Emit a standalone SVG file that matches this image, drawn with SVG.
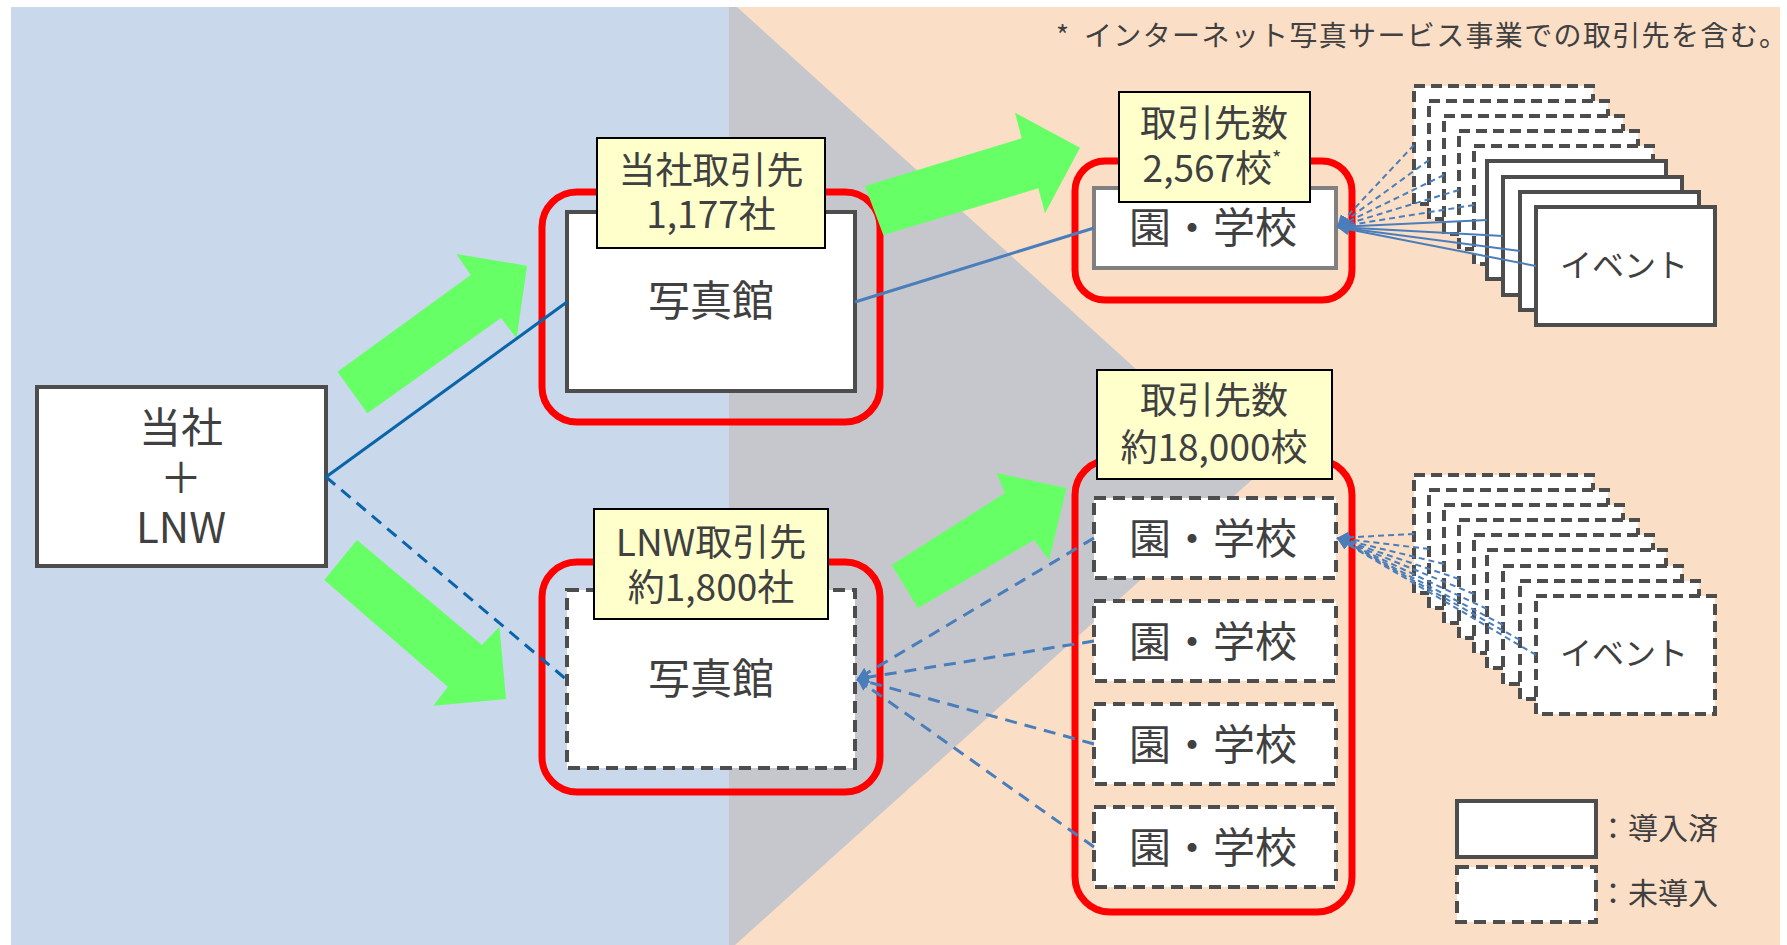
<svg xmlns="http://www.w3.org/2000/svg" width="1787" height="945" viewBox="0 0 1787 945">
<style>
text{font-family:"Noto Sans CJK JP","Noto Sans",sans-serif;fill:#404040}
.big{font-size:42px;text-anchor:middle}
.lab{font-size:37px;text-anchor:middle}
.ev{font-size:32px;text-anchor:middle}
.leg{font-size:30px}
.box{fill:#fff;stroke:#4d4d4d;stroke-width:4}
.dash{stroke-dasharray:12 7}
.edash{stroke-dasharray:11 6}
.red{fill:none;stroke:#ff0000;stroke-width:7}
.yel{fill:#ffffcc;stroke:#000;stroke-width:2}
.grn{fill:#66ff66}
.c1{fill:none;stroke:#0a64aa;stroke-width:3}
.c2{fill:none;stroke:#4a7ebb;stroke-width:3}
.f{fill:none;stroke:#4a7ebb;stroke-width:2}
.fd{stroke-dasharray:6 4}
.d{stroke-dasharray:12 8}
</style>
<defs>
<marker id="ah" markerUnits="userSpaceOnUse" markerWidth="14" markerHeight="12" refX="12" refY="6" orient="auto">
<path d="M0,0 L12,6 L0,12 Z" fill="#4a7ebb"/>
</marker>
</defs>
<g id="background">
<rect x="11" y="7" width="1769" height="938" fill="#fadec6"/>
<polygon points="729,7 737,7 1255,477 735,945 729,945" fill="#c6c7cc"/>
<rect x="11" y="7" width="718" height="938" fill="#c9d8ea"/>
</g>
<g id="groups">
<rect class="red" x="542" y="192" width="338" height="230" rx="35"/>
<rect class="red" x="542" y="562" width="338" height="230" rx="35"/>
<rect class="red" x="1075" y="161" width="277" height="139" rx="30"/>
<rect class="red" x="1075" y="460" width="277" height="452" rx="35"/>
</g>
<g id="node-company">
<rect class="box" x="37" y="387" width="289" height="179"/>
<text class="big" x="181" y="443">当社</text>
<text class="big" x="181" y="493">＋</text>
<text class="big" x="181" y="543">LNW</text>
</g>
<g id="node-studio-own">
<rect class="box" x="567" y="212" width="288" height="179"/>
<text class="big" x="711" y="316">写真館</text>
<rect class="yel" x="597" y="138" width="228" height="110"/>
<text class="lab" x="711" y="184">当社取引先</text>
<text class="lab" x="711" y="228">1,177社</text>
</g>
<g id="node-studio-lnw">
<rect class="box dash" x="567" y="590" width="288" height="178"/>
<text class="big" x="711" y="694">写真館</text>
<rect class="yel" x="594" y="509" width="234" height="110"/>
<text class="lab" x="711" y="556">LNW取引先</text>
<text class="lab" x="711" y="601">約1,800社</text>
</g>
<g id="node-school-own">
<rect class="box" style="stroke:#808080" x="1094" y="188" width="242" height="80"/>
<text class="big" x="1213" y="243">園・学校</text>
<rect class="yel" x="1119" y="92" width="191" height="110"/>
<text class="lab" x="1214" y="137">取引先数</text>
<text class="lab" x="1212" y="182">2,567校<tspan font-size="20" dy="-16">*</tspan></text>
</g>
<g id="node-school-lnw">
<rect class="box dash" x="1094" y="498" width="242" height="80"/>
<text class="big" x="1213" y="554">園・学校</text>
<rect class="box dash" x="1094" y="601" width="242" height="80"/>
<text class="big" x="1213" y="657">園・学校</text>
<rect class="box dash" x="1094" y="704" width="242" height="80"/>
<text class="big" x="1213" y="760">園・学校</text>
<rect class="box dash" x="1094" y="807" width="242" height="80"/>
<text class="big" x="1213" y="863">園・学校</text>
<rect class="yel" x="1097" y="370" width="235" height="109"/>
<text class="lab" x="1214" y="414">取引先数</text>
<text class="lab" x="1214" y="461">約18,000校</text>
</g>
<g id="node-events-own">
<rect class="box edash" x="1414" y="86" width="179" height="118"/>
<rect class="box edash" x="1429" y="101" width="179" height="118"/>
<rect class="box edash" x="1444" y="116" width="179" height="118"/>
<rect class="box edash" x="1459" y="131" width="179" height="118"/>
<rect class="box edash" x="1474" y="146" width="179" height="118"/>
<rect class="box" x="1487" y="161" width="179" height="118"/>
<rect class="box" x="1503" y="177" width="179" height="118"/>
<rect class="box" x="1520" y="192" width="179" height="118"/>
<rect class="box" x="1536" y="207" width="179" height="118"/>
<text class="ev" x="1624" y="277">イベント</text>
</g>
<g id="node-events-lnw">
<rect class="box edash" x="1414" y="475" width="179" height="118"/>
<rect class="box edash" x="1429" y="490" width="179" height="118"/>
<rect class="box edash" x="1444" y="505" width="179" height="118"/>
<rect class="box edash" x="1459" y="520" width="179" height="118"/>
<rect class="box edash" x="1474" y="535" width="179" height="118"/>
<rect class="box edash" x="1487" y="550" width="179" height="118"/>
<rect class="box edash" x="1503" y="566" width="179" height="118"/>
<rect class="box edash" x="1520" y="581" width="179" height="118"/>
<rect class="box edash" x="1536" y="596" width="179" height="118"/>
<text class="ev" x="1624" y="665">イベント</text>
</g>
<g id="arrows">
<polygon class="grn" points="337.5,371.7 470.7,275 456.4,254 527,265.7 516.6,338.3 501,318 367.4,413.3"/>
<polygon class="grn" points="357,540 482,645 499.4,626.7 506,699 433.4,705.7 447.8,686.7 324.3,580"/>
<polygon class="grn" points="865,186 1021.7,138.3 1015,112.7 1080,147.7 1045,213.3 1038.3,188.3 883.3,235"/>
<polygon class="grn" points="891.7,565 1005,493 996.5,473 1066.5,488 1049,560 1034,540 918,608"/>
</g>
<g id="connectors">
<line class="c1" x1="326" y1="477" x2="567" y2="302"/>
<line class="c1 d" x1="326" y1="477" x2="567" y2="680"/>
<line class="c2" x1="855" y1="302" x2="1094" y2="228"/>
<line class="c2 d" x1="1094" y1="538" x2="857" y2="679" marker-end="url(#ah)"/>
<line class="c2 d" x1="1094" y1="641" x2="857" y2="679" marker-end="url(#ah)"/>
<line class="c2 d" x1="1094" y1="744" x2="857" y2="679" marker-end="url(#ah)"/>
<line class="c2 d" x1="1094" y1="847" x2="857" y2="679" marker-end="url(#ah)"/>
<line class="f fd" x1="1414" y1="145" x2="1337" y2="227" marker-end="url(#ah)"/>
<line class="f fd" x1="1429" y1="160" x2="1337" y2="227" marker-end="url(#ah)"/>
<line class="f fd" x1="1444" y1="175" x2="1337" y2="227" marker-end="url(#ah)"/>
<line class="f fd" x1="1459" y1="190" x2="1337" y2="227" marker-end="url(#ah)"/>
<line class="f fd" x1="1474" y1="205" x2="1337" y2="227" marker-end="url(#ah)"/>
<line class="f" x1="1487" y1="220" x2="1337" y2="227" marker-end="url(#ah)"/>
<line class="f" x1="1503" y1="236" x2="1337" y2="227" marker-end="url(#ah)"/>
<line class="f" x1="1520" y1="251" x2="1337" y2="227" marker-end="url(#ah)"/>
<line class="f" x1="1536" y1="266" x2="1337" y2="227" marker-end="url(#ah)"/>
<line class="f fd" x1="1414" y1="534" x2="1337" y2="538" marker-end="url(#ah)"/>
<line class="f fd" x1="1429" y1="549" x2="1337" y2="538" marker-end="url(#ah)"/>
<line class="f fd" x1="1444" y1="564" x2="1337" y2="538" marker-end="url(#ah)"/>
<line class="f fd" x1="1459" y1="579" x2="1337" y2="538" marker-end="url(#ah)"/>
<line class="f fd" x1="1474" y1="594" x2="1337" y2="538" marker-end="url(#ah)"/>
<line class="f fd" x1="1487" y1="609" x2="1337" y2="538" marker-end="url(#ah)"/>
<line class="f fd" x1="1503" y1="625" x2="1337" y2="538" marker-end="url(#ah)"/>
<line class="f fd" x1="1520" y1="640" x2="1337" y2="538" marker-end="url(#ah)"/>
<line class="f fd" x1="1536" y1="655" x2="1337" y2="538" marker-end="url(#ah)"/>
</g>
<g id="legend">
<rect class="box" x="1457" y="801" width="139" height="56"/>
<text class="leg" x="1598" y="839">：導入済</text>
<rect class="box dash" x="1457" y="867" width="139" height="55"/>
<text class="leg" x="1598" y="904">：未導入</text>
</g>
<g id="note">
<text style="font-size:28px" x="1056" y="46">*</text>
<text style="font-size:28px" x="1084" y="46" textLength="703" lengthAdjust="spacing">インターネット写真サービス事業での取引先を含む。</text>
</g>
</svg>
